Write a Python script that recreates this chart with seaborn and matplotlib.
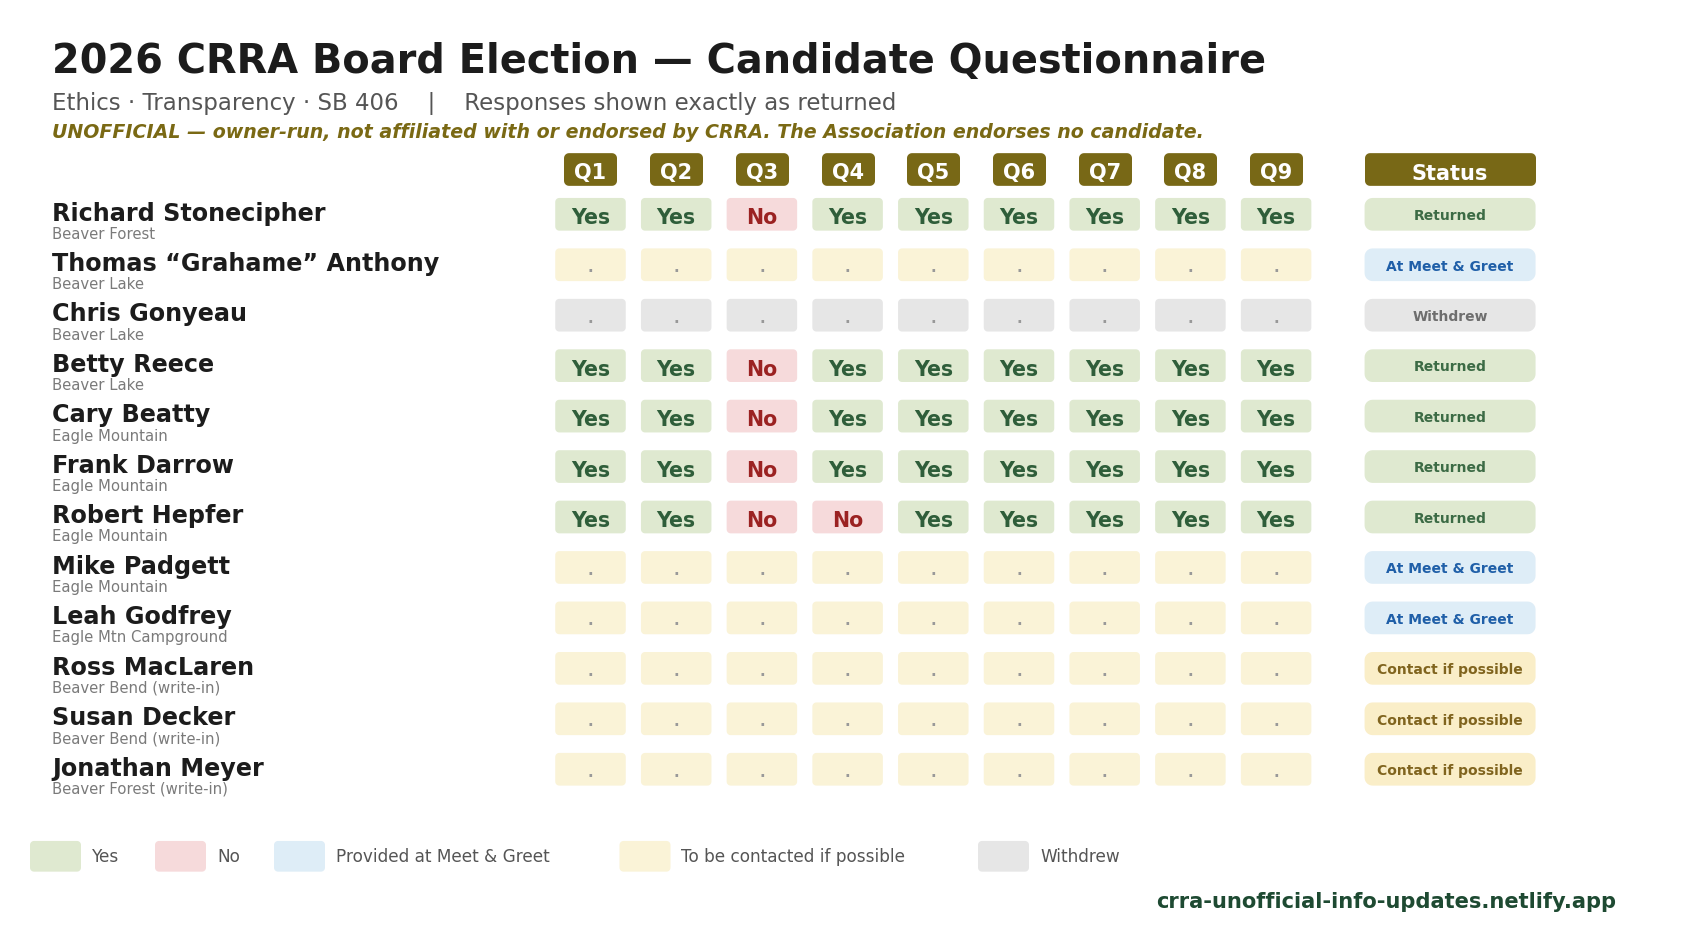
import numpy as np
import pandas as pd
import matplotlib
matplotlib.use('Agg')
import matplotlib.pyplot as plt
import matplotlib.transforms as mtransforms
from matplotlib.path import Path
import seaborn as sns

# ============================================================
# DATA
# ============================================================
questions = ['Q1', 'Q2', 'Q3', 'Q4', 'Q5', 'Q6', 'Q7', 'Q8', 'Q9']

candidates = [
    'Richard Stonecipher', 'Thomas \u201cGrahame\u201d Anthony', 'Chris Gonyeau',
    'Betty Reece', 'Cary Beatty', 'Frank Darrow', 'Robert Hepfer',
    'Mike Padgett', 'Leah Godfrey', 'Ross MacLaren', 'Susan Decker',
    'Jonathan Meyer',
]

areas = [
    'Beaver Forest', 'Beaver Lake', 'Beaver Lake', 'Beaver Lake',
    'Eagle Mountain', 'Eagle Mountain', 'Eagle Mountain', 'Eagle Mountain',
    'Eagle Mtn Campground', 'Beaver Bend (write-in)', 'Beaver Bend (write-in)',
    'Beaver Forest (write-in)',
]

# Y = yes, N = no, P = pending (to be contacted), W = withdrew
answers = [
    'YYNYYYYYY',
    'PPPPPPPPP',
    'WWWWWWWWW',
    'YYNYYYYYY',
    'YYNYYYYYY',
    'YYNYYYYYY',
    'YYNNYYYYY',
    'PPPPPPPPP',
    'PPPPPPPPP',
    'PPPPPPPPP',
    'PPPPPPPPP',
    'PPPPPPPPP',
]

statuses = [
    'Returned', 'At Meet & Greet', 'Withdrew', 'Returned', 'Returned',
    'Returned', 'Returned', 'At Meet & Greet', 'At Meet & Greet',
    'Contact if possible', 'Contact if possible', 'Contact if possible',
]

legend_labels = ['Yes', 'No', 'Provided at Meet & Greet',
                 'To be contacted if possible', 'Withdrew']

title = '2026 CRRA Board Election \u2014 Candidate Questionnaire'
subtitle = 'Ethics \u00b7 Transparency \u00b7 SB 406    |    Responses shown exactly as returned'
disclaimer = ('UNOFFICIAL \u2014 owner-run, not affiliated with or endorsed by CRRA. '
              'The Association endorses no candidate.')
footer = 'crra-unofficial-info-updates.netlify.app'

# ============================================================
# STYLE / LAYOUT
# ============================================================
OLIVE = '#786816'
cell_bg = {'Y': '#dfe9d0', 'N': '#f6dadb', 'P': '#faf3d7', 'W': '#e6e6e6'}
cell_text = {'Y': ('Yes', '#2f5e3a'), 'N': ('No', '#9b2222'),
             'P': ('.', '#999999'), 'W': ('.', '#999999')}
status_bg = {'Returned': '#dfe9d0', 'At Meet & Greet': '#deedf7',
             'Withdrew': '#e6e6e6', 'Contact if possible': '#faeec8'}
status_fg = {'Returned': '#3c6b45', 'At Meet & Greet': '#1f5fa8',
             'Withdrew': '#6e6e6e', 'Contact if possible': '#80641e'}
legend_colors = ['#dfe9d0', '#f6dadb', '#deedf7', '#faf3d7', '#e6e6e6']
legend_x_px = [55.5, 180.5, 299.5, 645.0, 1003.5]

W_PX, H_PX = 1690, 945
COL0, COL_W = 590.5, 85.7       # pixel centre of Q1, column pitch
ROW0, ROW_H = 215.3, 50.45      # pixel centre of first row, row pitch
STATUS_COL = 10.03
HEADER_ROW = (170.3 - ROW0) / ROW_H
LEGEND_ROW = (857.3 - ROW0) / ROW_H
PT = 72 / 100                   # points per pixel at dpi 100


def rounded_box(w, h, r, n=8):
    # closed rounded-rectangle path, used as a scatter marker
    pts = []
    corners = [(w / 2 - r, h / 2 - r, 0), (-w / 2 + r, h / 2 - r, 90),
               (-w / 2 + r, -h / 2 + r, 180), (w / 2 - r, -h / 2 + r, 270)]
    for cx, cy, a0 in corners:
        t = np.radians(np.linspace(a0, a0 + 90, n))
        pts += list(zip(cx + r * np.cos(t), cy + r * np.sin(t)))
    pts.append(pts[0])
    codes = [Path.MOVETO] + [Path.LINETO] * (len(pts) - 2) + [Path.CLOSEPOLY]
    return Path(pts, codes)


def marker_size(w):
    return (w * PT) ** 2


def dy(px):
    return px / ROW_H


sns.set_theme(style='white')
plt.rcParams['font.family'] = ['DejaVu Sans']

fig = plt.figure(figsize=(16.9, 9.45), dpi=100)
fig.patch.set_facecolor('white')
ax = fig.add_axes([0, 0, 1, 1])
ax.set_xlim(-COL0 / COL_W, (W_PX - COL0) / COL_W)
ax.set_ylim((H_PX - ROW0) / ROW_H, -ROW0 / ROW_H)
ax.axis('off')

# pixel transform for free text (origin top-left)
px = mtransforms.Affine2D().scale(1 / W_PX, -1 / H_PX).translate(0, 1) + fig.transFigure
# x in pixels, y in row units
name_tr = mtransforms.blended_transform_factory(
    mtransforms.Affine2D().scale(1 / W_PX) + fig.transFigure, ax.transData)

# ---- titles ----
fig.text(52, 72.7, title, transform=px, fontsize=28.7, fontweight='bold',
         color='#1c1c1c', va='baseline')
fig.text(52, 110, subtitle, transform=px, fontsize=16.5, color='#555555',
         va='baseline')
fig.text(52, 138.3, disclaimer, transform=px, fontsize=13.7, fontweight='bold',
         fontstyle='italic', color='#7a6914', va='baseline')

# ---- header row ----
hdr = pd.DataFrame({'col': np.arange(len(questions)), 'row': HEADER_ROW})
sns.scatterplot(data=hdr, x='col', y='row', color=OLIVE,
                marker=rounded_box(53, 32.7, 5), s=marker_size(53),
                linewidth=0, legend=False, ax=ax, zorder=2)
sns.scatterplot(x=[STATUS_COL], y=[HEADER_ROW], color=OLIVE,
                marker=rounded_box(171, 32.7, 5), s=marker_size(171),
                linewidth=0, legend=False, ax=ax, zorder=2)
for i, q in enumerate(questions):
    ax.text(i, HEADER_ROW + dy(8.8), q, ha='center', va='baseline',
            fontsize=15, fontweight='bold', color='white', zorder=3)
ax.text(STATUS_COL, HEADER_ROW + dy(10), 'Status', ha='center', va='baseline',
        fontsize=15, fontweight='bold', color='white', zorder=3)

# ---- answer cells ----
cells = pd.DataFrame([(r, c, a) for r, row in enumerate(answers)
                      for c, a in enumerate(row)], columns=['row', 'col', 'answer'])
sns.scatterplot(data=cells, x='col', y='row', hue='answer', palette=cell_bg,
                marker=rounded_box(70.5, 32.7, 4), s=marker_size(70.5),
                linewidth=0, legend=False, ax=ax, zorder=2)
for r, c, a in cells.itertuples(index=False):
    label, color = cell_text[a]
    if a in 'YN':
        ax.text(c, r + dy(9.2), label, ha='center', va='baseline', fontsize=14.8,
                fontweight='bold', color=color, zorder=3)
    else:
        ax.text(c, r + dy(6.5), label, ha='center', va='baseline', fontsize=11,
                fontweight='bold', color=color, zorder=3)

# ---- status column ----
st = pd.DataFrame({'row': np.arange(len(statuses)), 'col': STATUS_COL,
                   'status': statuses})
sns.scatterplot(data=st, x='col', y='row', hue='status', palette=status_bg,
                marker=rounded_box(171, 32.7, 8), s=marker_size(171),
                linewidth=0, legend=False, ax=ax, zorder=2)
for r, s in enumerate(statuses):
    ax.text(STATUS_COL, r + dy(4.8), s, ha='center', va='baseline', fontsize=10,
            fontweight='bold', color=status_fg[s], zorder=3)

# ---- candidate names ----
for r, (name, area) in enumerate(zip(candidates, areas)):
    ax.text(52, r + dy(5.3), name, transform=name_tr, ha='left', va='baseline',
            fontsize=17.2, fontweight='bold', color='#1c1c1c')
    ax.text(52, r + dy(23.5), area, transform=name_tr, ha='left', va='baseline',
            fontsize=10.75, color='#7a7a7a')

# ---- legend ----
leg_x = [(x - COL0) / COL_W for x in legend_x_px]
leg = pd.DataFrame({'col': leg_x, 'row': LEGEND_ROW, 'label': legend_labels})
sns.scatterplot(data=leg, x='col', y='row', hue='label',
                palette=dict(zip(legend_labels, legend_colors)),
                marker=rounded_box(51, 30.7, 4), s=marker_size(51),
                linewidth=0, legend=False, ax=ax, zorder=2)
for x, lab in zip(legend_x_px, legend_labels):
    ax.text(x + 36.5, LEGEND_ROW + dy(4.6), lab, transform=name_tr, ha='left',
            va='baseline', fontsize=12.2, color='#555555')

# ---- footer ----
fig.text(1616, 908.3, footer, transform=px, ha='right', va='baseline',
         fontsize=15.1, fontweight='bold', color='#1e4a32')

fig.savefig('out.png', dpi=100, facecolor='white')
